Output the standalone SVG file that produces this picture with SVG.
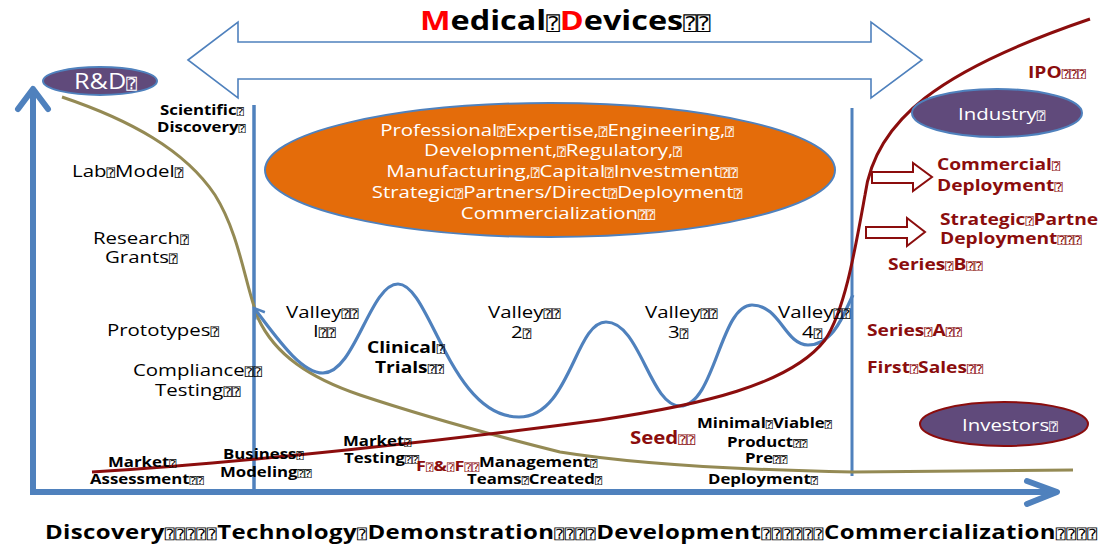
<svg xmlns="http://www.w3.org/2000/svg" width="1109" height="544" viewBox="0 0 1109 544">
  <defs>
    <style>
      text { font-family: "Open Sans", "Liberation Sans", sans-serif; font-size: 17px; fill: #000; }
      .b { font-weight: 700; font-size: 14px; }
      .m { font-weight: 700; font-size: 16px; }
      .red { fill: #8b0d0d; }
      .w { fill: #fff; }
      .q { font-family: "DejaVu Sans Mono", monospace; font-weight: 400; font-size: 70%; }
      .ttl { font-weight: 700; font-size: 27px; }
      .stage { font-weight: 700; font-size: 20px; }
      .blue { fill: none; stroke: #4f81bd; }
      .pill { fill: #604a7b; stroke-width: 2; }
      .hollow { fill: #fff; stroke: #8b0d0d; stroke-width: 2; stroke-linejoin: miter; }
    </style>
    <marker id="open-tip" viewBox="0 0 14 14" refX="12" refY="7" markerWidth="14" markerHeight="14" markerUnits="userSpaceOnUse" orient="auto-start-reverse">
      <path d="M2,1 L12,7 L2,13" fill="none" stroke="#4f81bd" stroke-width="2.5"/>
    </marker>
  </defs>

  <rect width="1109" height="544" fill="#fff"/>

  <!-- title -->
  <g id="title">
    <text class="ttl" transform="translate(420 30) scale(1.2 1)"><tspan fill="#f00">M</tspan>edical<tspan class="q">⍰</tspan><tspan fill="#f00">D</tspan>evices<tspan class="q">⍰⍰</tspan></text>
  </g>

  <g id="connectors">
    <!-- double-headed span arrow -->
    <polygon points="188,60 238,22 238,42 871,42 871,22 922,60 871,98 871,79 238,79 238,98" fill="#fff" stroke="#4f81bd" stroke-width="1.6"/>
    <!-- axes -->
    <polyline class="blue" points="33,92 33,492 1056,492" stroke-width="6" stroke-linejoin="miter"/>
    <polyline class="blue" points="18,109 33,89 48,109" stroke-width="6" stroke-linecap="round" stroke-linejoin="round"/>
    <polyline class="blue" points="1027,481 1057,492 1027,504" stroke-width="6" stroke-linecap="round" stroke-linejoin="round"/>
    <!-- phase dividers -->
    <line class="blue" x1="254" y1="105" x2="254" y2="492" stroke-width="3.5"/>
    <line class="blue" x1="852" y1="108" x2="852" y2="476" stroke-width="3"/>
    <!-- R&D support curve -->
    <path d="M62,97 C130,120 185,150 215,195 C240,235 245,285 258,318 C275,355 310,378 360,395 C420,415 480,432 560,452 C640,465 750,470 853,472 L1073,470" fill="none" stroke="#948a54" stroke-width="3"/>
    <!-- valleys of death -->
    <path class="blue" d="M254,308 C275,335 300,373 323,373 C355,373 370,284 398,284 C430,284 450,417 519,417 C570,417 575,322 606,322 C640,322 650,406 680,406 C715,406 720,305 752,305 C780,305 785,345 808,345 C835,345 845,310 853,295" stroke-width="3.2" marker-start="url(#open-tip)"/>
    <!-- investment curve -->
    <path d="M92,472 C250,462 450,440 600,420 C700,405 790,385 825,340 C845,310 855,250 865,195 C875,120 940,70 1090,19" fill="none" stroke="#8b0d0d" stroke-width="3"/>
    <!-- outcome arrows -->
    <polygon class="hollow" points="872,172 913,172 913,163 932,177 913,191 913,183 872,183"/>
    <polygon class="hollow" points="866,227 907,227 907,218 925,232 907,246 907,238 866,238"/>
  </g>

  <g id="rnd">
    <ellipse class="pill" cx="100" cy="81" rx="57" ry="14" stroke="#4f81bd"/>
    <text class="w" style="font-size:21px" transform="translate(74 89) scale(1.2 1)">R&amp;D<tspan class="q">⍰</tspan></text>
  </g>

  <g id="industry">
    <ellipse class="pill" cx="997" cy="113" rx="85" ry="24" stroke="#4f81bd"/>
    <text class="w" transform="translate(958 120) scale(1.2 1)">Industry<tspan class="q">⍰</tspan></text>
  </g>

  <g id="investors">
    <ellipse class="pill" cx="1004" cy="424" rx="84" ry="22" stroke="#8b0d0d"/>
    <text class="w" transform="translate(962 431) scale(1.2 1)">Investors<tspan class="q">⍰</tspan></text>
  </g>

  <g id="capabilities">
    <ellipse cx="550" cy="170" rx="285" ry="67" fill="#e46c0a" stroke="#4f81bd" stroke-width="2"/>
    <g text-anchor="middle">
      <text class="w" transform="translate(557 136) scale(1.2 1)">Professional<tspan class="q">⍰</tspan>Expertise,<tspan class="q">⍰</tspan>Engineering,<tspan class="q">⍰</tspan></text>
      <text class="w" transform="translate(553 156) scale(1.2 1)">Development,<tspan class="q">⍰</tspan>Regulatory,<tspan class="q">⍰</tspan></text>
      <text class="w" transform="translate(562 177) scale(1.2 1)">Manufacturing,<tspan class="q">⍰</tspan>Capital<tspan class="q">⍰</tspan>Investment<tspan class="q">⍰⍰</tspan></text>
      <text class="w" transform="translate(557 198) scale(1.2 1)">Strategic<tspan class="q">⍰</tspan>Partners/Direct<tspan class="q">⍰</tspan>Deployment<tspan class="q">⍰</tspan></text>
      <text class="w" transform="translate(558 219) scale(1.2 1)">Commercialization<tspan class="q">⍰⍰</tspan></text>
    </g>
  </g>

  <!-- discovery-side milestones -->
  <g id="discovery-labels">
    <text class="b" transform="translate(160 115) scale(1.2 1)">Scientific<tspan class="q">⍰</tspan></text>
    <text class="b" transform="translate(157 132) scale(1.2 1)">Discovery<tspan class="q">⍰</tspan></text>
    <text transform="translate(72 177) scale(1.2 1)">Lab<tspan class="q">⍰</tspan>Model<tspan class="q">⍰</tspan></text>
    <text transform="translate(93 244) scale(1.2 1)">Research<tspan class="q">⍰</tspan></text>
    <text transform="translate(105 263) scale(1.2 1)">Grants<tspan class="q">⍰</tspan></text>
    <text transform="translate(107 336) scale(1.2 1)">Prototypes<tspan class="q">⍰</tspan></text>
    <text transform="translate(133 376) scale(1.2 1)">Compliance<tspan class="q">⍰⍰</tspan></text>
    <text transform="translate(155 396) scale(1.2 1)">Testing<tspan class="q">⍰⍰</tspan></text>
    <text class="b" transform="translate(108 467) scale(1.2 1)">Market<tspan class="q">⍰</tspan></text>
    <text class="b" transform="translate(90 484) scale(1.2 1)">Assessment<tspan class="q">⍰⍰</tspan></text>
    <text class="b" transform="translate(223 459) scale(1.2 1)">Business<tspan class="q">⍰</tspan></text>
    <text class="b" transform="translate(220 477) scale(1.2 1)">Modeling<tspan class="q">⍰⍰</tspan></text>
  </g>

  <!-- valley labels -->
  <g id="valleys">
    <text transform="translate(286 318) scale(1.2 1)">Valley<tspan class="q">⍰⍰</tspan></text>
    <text transform="translate(313 337) scale(1.2 1)">I<tspan class="q">⍰⍰</tspan></text>
    <text class="m" transform="translate(367 353) scale(1.2 1)">Clinical<tspan class="q">⍰</tspan></text>
    <text class="m" transform="translate(375 373) scale(1.2 1)">Trials<tspan class="q">⍰⍰</tspan></text>
    <text transform="translate(488 318) scale(1.2 1)">Valley<tspan class="q">⍰⍰</tspan></text>
    <text transform="translate(511 338) scale(1.2 1)">2<tspan class="q">⍰</tspan></text>
    <text transform="translate(645 318) scale(1.2 1)">Valley<tspan class="q">⍰⍰</tspan></text>
    <text transform="translate(668 338) scale(1.2 1)">3<tspan class="q">⍰</tspan></text>
    <text transform="translate(778 318) scale(1.2 1)">Valley<tspan class="q">⍰⍰</tspan></text>
    <text transform="translate(802 338) scale(1.2 1)">4<tspan class="q">⍰</tspan></text>
  </g>

  <!-- development milestones -->
  <g id="development-labels">
    <text class="b" transform="translate(343 446) scale(1.2 1)">Market<tspan class="q">⍰</tspan></text>
    <text class="b" transform="translate(344 463) scale(1.2 1)">Testing<tspan class="q">⍰⍰</tspan></text>
    <text class="b red" style="font-size:15px" transform="translate(416 471) scale(1.2 1)">F<tspan class="q">⍰</tspan>&amp;<tspan class="q">⍰</tspan>F<tspan class="q">⍰⍰</tspan></text>
    <text class="b" transform="translate(479 467) scale(1.2 1)">Management<tspan class="q">⍰</tspan></text>
    <text class="b" transform="translate(467 484) scale(1.2 1)">Teams<tspan class="q">⍰</tspan>Created<tspan class="q">⍰</tspan></text>
    <text class="m red" style="font-size:17px" transform="translate(630 444) scale(1.2 1)">Seed<tspan class="q">⍰⍰</tspan></text>
    <text class="b" transform="translate(697 428) scale(1.2 1)">Minimal<tspan class="q">⍰</tspan>Viable<tspan class="q">⍰</tspan></text>
    <text class="b" transform="translate(727 447) scale(1.2 1)">Product<tspan class="q">⍰⍰</tspan></text>
    <text class="b" transform="translate(745 463) scale(1.2 1)">Pre<tspan class="q">⍰⍰</tspan></text>
    <text class="b" transform="translate(708 484) scale(1.2 1)">Deployment<tspan class="q">⍰</tspan></text>
  </g>

  <!-- funding milestones -->
  <g id="funding-labels">
    <text class="m red" transform="translate(1028 78) scale(1.2 1)">IPO<tspan class="q">⍰⍰⍰</tspan></text>
    <text class="m red" transform="translate(937 170) scale(1.2 1)">Commercial<tspan class="q">⍰</tspan></text>
    <text class="m red" transform="translate(937 191) scale(1.2 1)">Deployment<tspan class="q">⍰</tspan></text>
    <text class="m red" transform="translate(940 225) scale(1.2 1)">Strategic<tspan class="q">⍰</tspan>Partne</text>
    <text class="m red" transform="translate(940 244) scale(1.2 1)">Deployment<tspan class="q">⍰⍰⍰</tspan></text>
    <text class="m red" transform="translate(888 270) scale(1.2 1)">Series<tspan class="q">⍰</tspan>B<tspan class="q">⍰⍰</tspan></text>
    <text class="m red" transform="translate(867 336) scale(1.2 1)">Series<tspan class="q">⍰</tspan>A<tspan class="q">⍰⍰</tspan></text>
    <text class="m red" transform="translate(867 373) scale(1.2 1)">First<tspan class="q">⍰</tspan>Sales<tspan class="q">⍰⍰</tspan></text>
  </g>

  <!-- stage names along the time axis -->
  <g id="stages">
    <text class="stage" transform="translate(45 539) scale(1.2 1)" textLength="877" lengthAdjust="spacing">Discovery<tspan class="q">⍰⍰⍰⍰⍰</tspan>Technology<tspan class="q">⍰</tspan>Demonstration<tspan class="q">⍰⍰⍰⍰</tspan>Development<tspan class="q">⍰⍰⍰⍰⍰⍰</tspan>Commercialization<tspan class="q">⍰⍰⍰⍰</tspan></text>
  </g>
</svg>
